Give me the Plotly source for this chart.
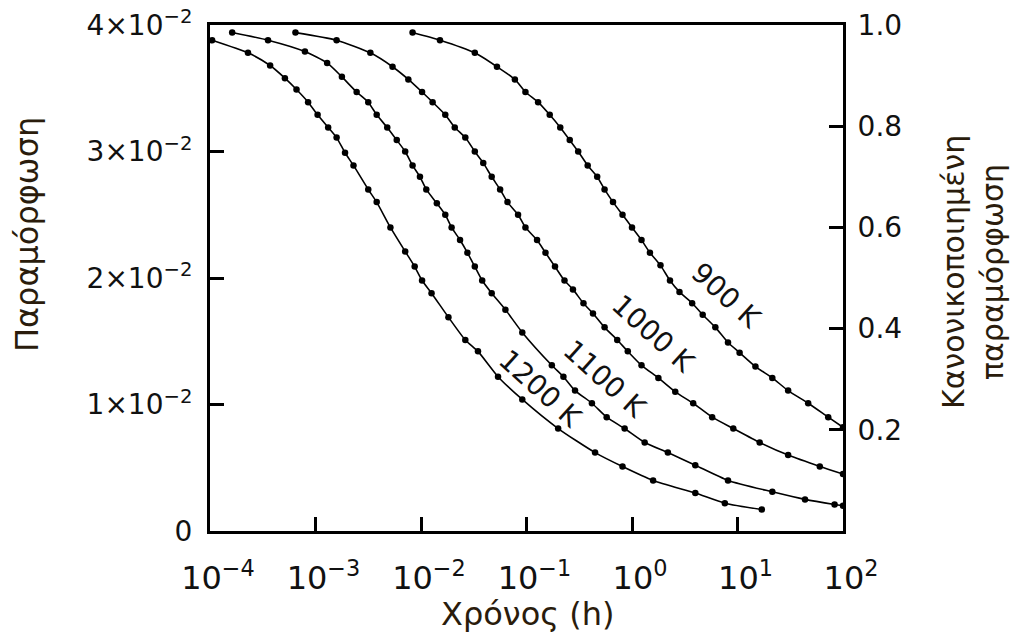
import numpy as np
import plotly.graph_objects as go

# ---- data (time as log10 of hours, strain absolute) ----
temps = ["900 K", "1000 K", "1100 K", "1200 K"]

logt_900 = [-2.08, -1.82, -1.49, -1.28, -1.11, -1.01, -0.89, -0.78, -0.68, -0.59, -0.51,
            -0.42, -0.33, -0.26, -0.18, -0.09, 0.00, 0.09, 0.17, 0.27, 0.36, 0.45, 0.57,
            0.67, 0.79, 0.91, 1.02, 1.17, 1.33, 1.48, 1.67, 1.86, 2.00]
strain_900 = [0.0394, 0.0388, 0.0378, 0.0367, 0.0357, 0.0347, 0.0339, 0.0329, 0.0319, 0.0309,
              0.0300, 0.0289, 0.0280, 0.0270, 0.0260, 0.0250, 0.0240, 0.0230, 0.0220, 0.0210,
              0.0198, 0.0189, 0.0180, 0.0171, 0.0161, 0.0149, 0.0141, 0.0130, 0.0121, 0.0111,
              0.0101, 0.0090, 0.0082]

logt_1000 = [-3.19, -2.80, -2.48, -2.27, -2.12, -1.99, -1.89, -1.77, -1.68, -1.58, -1.49,
             -1.41, -1.33, -1.25, -1.18, -1.08, -1.01, -0.90, -0.82, -0.73, -0.64, -0.56,
             -0.46, -0.37, -0.26, -0.14, -0.04, 0.09, 0.25, 0.41, 0.58, 0.76, 0.96, 1.21,
             1.48, 1.78, 2.00]
strain_1000 = [0.0394, 0.0388, 0.0378, 0.0367, 0.0357, 0.0347, 0.0339, 0.0329, 0.0319, 0.0311,
               0.0300, 0.0291, 0.0280, 0.0270, 0.0260, 0.0250, 0.0240, 0.0230, 0.0220, 0.0209,
               0.0198, 0.0191, 0.0180, 0.0172, 0.0161, 0.0151, 0.0142, 0.0131, 0.0121, 0.0110,
               0.0101, 0.0090, 0.0081, 0.0070, 0.0060, 0.0051, 0.0045]

logt_1100 = [-3.79, -3.45, -3.10, -2.89, -2.75, -2.61, -2.50, -2.42, -2.32, -2.23, -2.15,
             -2.08, -2.01, -1.95, -1.85, -1.77, -1.71, -1.63, -1.56, -1.49, -1.42, -1.33,
             -1.20, -1.04, -0.76, -0.65, -0.54, -0.38, -0.24, -0.07, 0.12, 0.34, 0.60,
             0.91, 1.33, 1.64, 1.92, 2.00]
strain_1100 = [0.0394, 0.0388, 0.0379, 0.0370, 0.0359, 0.0347, 0.0339, 0.0329, 0.0319, 0.0309,
               0.0300, 0.0289, 0.0280, 0.0270, 0.0259, 0.0250, 0.0240, 0.0230, 0.0220, 0.0209,
               0.0198, 0.0188, 0.0175, 0.0157, 0.0131, 0.0122, 0.0111, 0.0101, 0.0090, 0.0081,
               0.0070, 0.0062, 0.0052, 0.0040, 0.0031, 0.0025, 0.0021, 0.0020]

logt_1200 = [-3.98, -3.64, -3.43, -3.29, -3.18, -3.07, -2.98, -2.88, -2.80, -2.72, -2.64,
             -2.50, -2.42, -2.29, -2.15, -2.06, -1.99, -1.90, -1.74, -1.58, -1.46, -1.27,
             -1.04, -0.70, -0.35, -0.09, 0.20, 0.60, 0.88, 1.23]
strain_1200 = [0.0388, 0.0378, 0.0368, 0.0358, 0.0349, 0.0339, 0.0329, 0.0319, 0.0311, 0.0299,
               0.0289, 0.0270, 0.0260, 0.0240, 0.0221, 0.0209, 0.0198, 0.0188, 0.0169, 0.0151,
               0.0142, 0.0122, 0.0104, 0.0081, 0.0062, 0.0051, 0.0040, 0.0030, 0.0022, 0.0017]

x_tickvals = [1e-4, 1e-3, 1e-2, 1e-1, 1e0, 1e1, 1e2]
x_ticktext = ["10<sup>−4</sup>", "10<sup>−3</sup>", "10<sup>−2</sup>", "10<sup>−1</sup>",
              "10<sup>0</sup>", "10<sup>1</sup>", "10<sup>2</sup>"]
y_tickvals = [0, 0.01, 0.02, 0.03, 0.04]
y_ticktext = ["0", "1×10<sup>−2</sup>", "2×10<sup>−2</sup>", "3×10<sup>−2</sup>", "4×10<sup>−2</sup>"]
y2_tickvals = [0.2, 0.4, 0.6, 0.8, 1.0]
y2_ticktext = ["0.2", "0.4", "0.6", "0.8", "1.0"]

# label anchor positions (log10 hours, strain)
label_pos = {"900 K": (0.89, 0.01858), "1000 K": (0.20, 0.01565),
             "1100 K": (-0.265, 0.01202), "1200 K": (-0.87, 0.0113)}

series = {
    "900 K": (logt_900, strain_900),
    "1000 K": (logt_1000, strain_1000),
    "1100 K": (logt_1100, strain_1100),
    "1200 K": (logt_1200, strain_1200),
}

FONT = "DejaVu Sans"
INK = "#111111"
TITLE_INK = "#2a1c0c"

fig = go.Figure()
for name in temps:
    lt, s = series[name]
    fig.add_trace(go.Scatter(
        x=10 ** np.array(lt), y=s, mode="lines+markers", name=name,
        line=dict(color="black", width=1.6, shape="spline", smoothing=0.6),
        marker=dict(color="black", size=6.5),
        showlegend=False, hoverinfo="skip",
    ))

# empty trace bound to the normalized (right) axis
fig.add_trace(go.Scatter(x=[], y=[], yaxis="y2", showlegend=False, hoverinfo="skip"))

axis_common = dict(showgrid=False, zeroline=False, ticks="inside", ticklen=14, tickwidth=2.5,
                   tickcolor="black", showline=True, linecolor="black", linewidth=3,
                   automargin=False, ticklabeloverflow="allow")

fig.update_layout(
    template="none",
    width=1015, height=639,
    margin=dict(l=210, r=172, t=25, b=108, autoexpand=False),
    paper_bgcolor="white", plot_bgcolor="white",
    font=dict(family=FONT, color=INK),
    xaxis=dict(type="log", range=[-4, 2], tickvals=x_tickvals, ticktext=x_ticktext,
               tickfont=dict(size=32, family=FONT, color=INK), mirror=True,
               ticklabelstandoff=17, ticklabelshift=8, **axis_common),
    yaxis=dict(range=[0, 0.04], tickvals=y_tickvals, ticktext=y_ticktext,
               tickfont=dict(size=28, family=FONT, color=INK),
               ticklabelstandoff=9, **axis_common),
    yaxis2=dict(range=[0, 1], overlaying="y", side="right", tickvals=y2_tickvals,
                ticktext=y2_ticktext, tickfont=dict(size=28, family=FONT, color=INK),
                ticklabelstandoff=6, **axis_common),
)

annotations = []
for name in temps:
    lx, ly = label_pos[name]
    annotations.append(dict(x=lx, y=ly, xref="x", yref="y", text=name, showarrow=False,
                            xanchor="center", yanchor="middle",
                            textangle=42, font=dict(size=28, family=FONT, color=INK)))

annotations.append(dict(x=0.502, y=-0.165, xref="paper", yref="paper", text="Χρόνος (h)",
                        showarrow=False, xanchor="center", yanchor="middle",
                        font=dict(size=32, family=FONT, color=TITLE_INK)))
annotations.append(dict(x=-0.289, y=0.585, xref="paper", yref="paper", text="Παραμόρφωση",
                        showarrow=False, textangle=-90, xanchor="center", yanchor="middle",
                        font=dict(size=32, family=FONT, color=TITLE_INK)))
annotations.append(dict(x=1.2055, y=0.512, xref="paper", yref="paper",
                        text="Κανονικοποιημένη<br>παραμόρφωση", showarrow=False, textangle=-90,
                        xanchor="center", yanchor="middle",
                        font=dict(size=30, family=FONT, color=TITLE_INK)))
fig.update_layout(annotations=annotations)

# remove the browser's default 8px body margin so the figure fills the window exactly
fig.write_html("out.html", config={"displayModeBar": False},
               post_script="document.body.style.margin='0px';")
